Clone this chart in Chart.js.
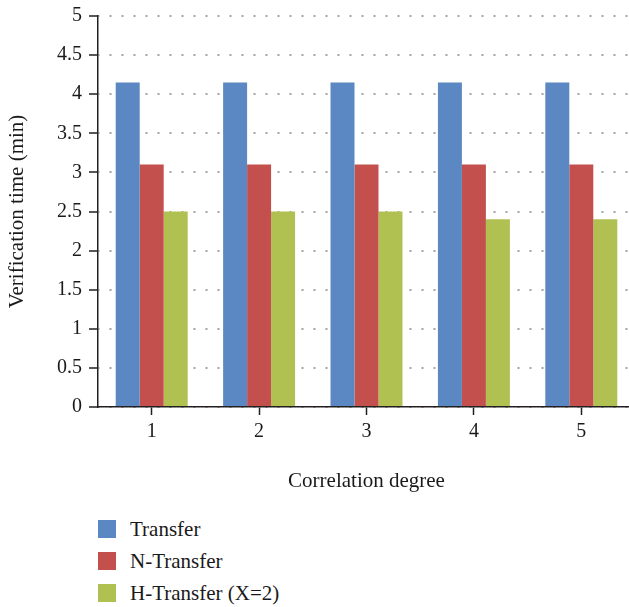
<!DOCTYPE html>
<html>
<head>
<meta charset="utf-8">
<script src="https://cdn.jsdelivr.net/npm/chart.js@4"></script>
<style>
  html, body { margin: 0; padding: 0; background: #fff; width: 629px; height: 607px; overflow: hidden; }
  #wrap { position: relative; width: 629px; height: 607px; overflow: hidden; }
  #chart { position: absolute; left: 0; top: 0; }
  .legenda { position: absolute; left: 98px; top: 513px; font-family: "Liberation Serif", serif; font-size: 21px; color: #1a1a1a; }
  .legenda .item { display: flex; align-items: center; height: 32px; }
  .legenda .caixa { width: 18px; height: 18px; margin-right: 14px; }
</style>
</head>
<body>
<div id="wrap">
  <canvas id="chart" width="640" height="500"></canvas>
  <div class="legenda" id="legenda"></div>
</div>
<script>
const categorias = ['1', '2', '3', '4', '5'];
const transfer = [4.15, 4.15, 4.15, 4.15, 4.15];
const nTransfer = [3.1, 3.1, 3.1, 3.1, 3.1];
const hTransfer = [2.5, 2.5, 2.5, 2.4, 2.4];
const nomesSeries = ['Transfer', 'N-Transfer', 'H-Transfer (X=2)'];
const cores = ['#5b87c2', '#c4504d', '#b0c152'];

const fonte = { family: '"Liberation Serif", serif', size: 20 };
const fonteY = { family: '"Liberation Serif", serif', size: 20, lineHeight: 0.9 };
const fonteTitulo = { family: '"Liberation Serif", serif', size: 21 };
const corTexto = '#1a1a1a';

const data = {
  labels: categorias,
  datasets: [transfer, nTransfer, hTransfer].map((valores, i) => ({
    label: nomesSeries[i],
    data: valores,
    backgroundColor: cores[i],
    borderWidth: 0
  }))
};

const chart = new Chart(document.getElementById('chart').getContext('2d'), {
  type: 'bar',
  data,
  options: {
    responsive: false,
    animation: false,
    devicePixelRatio: 1,
    layout: { padding: { top: 16, right: 5, bottom: 0, left: 0 } },
    plugins: { legend: { display: false }, tooltip: { enabled: false } },
    datasets: { bar: { categoryPercentage: 0.67, barPercentage: 1 } },
    scales: {
      x: {
        offset: true,
        afterFit: s => { s.height = 93; },
        grid: { offset: false, drawOnChartArea: false, drawTicks: true, tickLength: 8, tickColor: '#231f20', tickWidth: 1.5 },
        border: { display: true, color: '#231f20', width: 1.5 },
        ticks: { font: fonte, color: corTexto, padding: 5, maxRotation: 0 },
        title: { display: true, text: 'Correlation degree', font: fonteTitulo, color: corTexto, padding: { top: 0, bottom: 6 } }
      },
      y: {
        min: 0,
        max: 5,
        afterFit: s => { s.width = 98; },
        grid: { color: '#a3a3a3', lineWidth: 2, drawTicks: true, tickLength: 9, tickColor: '#231f20', tickWidth: 1.5, tickBorderDash: [] },
        border: { display: true, color: '#231f20', width: 1.5, dash: [2, 10], dashOffset: -11 },
        ticks: { stepSize: 0.5, font: fonteY, color: corTexto, padding: 7, callback: v => String(v) },
        title: { display: true, text: 'Verification time (min)', font: fonteTitulo, color: corTexto, padding: { top: 5, bottom: 0 } }
      }
    }
  }
});

const legenda = document.getElementById('legenda');
chart.data.datasets.forEach(ds => {
  const item = document.createElement('div');
  item.className = 'item';
  item.innerHTML = `<span class="caixa" style="background:${ds.backgroundColor}"></span><span>${ds.label}</span>`;
  legenda.appendChild(item);
});
</script>
</body>
</html>
